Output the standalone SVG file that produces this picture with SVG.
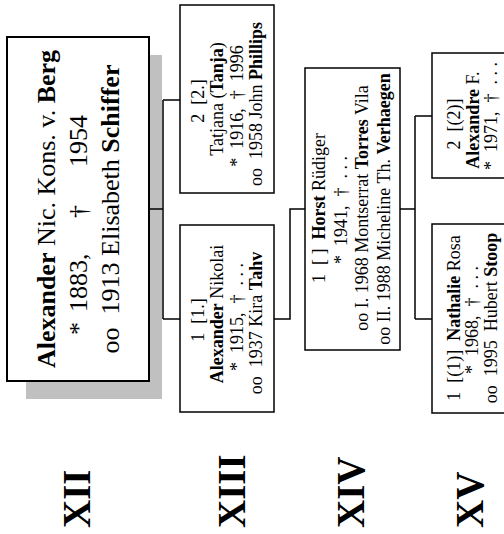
<svg xmlns="http://www.w3.org/2000/svg" width="504" height="534" viewBox="0 0 504 534">
<style>
.box{fill:#fff;stroke:#000;stroke-width:1.5}
.main{fill:#fff;stroke:#000;stroke-width:2}
.conn{fill:none;stroke:#000;stroke-width:1.5}
text{font-family:"Liberation Serif","Times New Roman",serif;fill:#000;white-space:pre}
.t{font-size:18px;text-anchor:middle}
.m{font-size:26px}
.b{font-weight:bold}
.rn{font-size:39px;font-weight:bold}
</style>
<rect x="26" y="55" width="136" height="344" fill="#c0c0c0"/>
<g id="connectors">
<path class="conn" d="M149,209 H163 M163,100 V319 M163,100 H180 M163,319 H180"/>
<path class="conn" d="M274,319 H290 V209 H305"/>
<path class="conn" d="M400,209 H415 M415,116 V319 M415,116 H432 M415,319 H432"/>
</g>
<g id="n_berg">
<rect class="main" x="7" y="37" width="142" height="344"/>
<g transform="rotate(-90)">
<text class="m" x="-209" y="55" text-anchor="middle"><tspan class="b">Alexander</tspan> Nic. Kons. v. <tspan class="b">Berg</tspan></text>
<text class="m" x="-335" y="87">*</text>
<text class="m" x="-312" y="87">1883,</text>
<text class="m" x="-218" y="87">†</text>
<text class="m" x="-115" y="87" text-anchor="end">1954</text>
<text class="m" x="-209" y="119" text-anchor="middle">oo  1913 Elisabeth <tspan class="b">Schiffer</tspan></text>
</g>
</g>
<g id="n_tatjana">
<rect class="box" x="180" y="5" width="94" height="188"/>
<g transform="rotate(-90)">
<text class="t" x="-101" y="204">2  [2.]</text>
<text class="t" x="-99" y="223">Tatjana (<tspan class="b">Tanja</tspan>)</text>
<text class="t" x="-106" y="243">*  1916,  †  1996</text>
<text class="t" x="-104" y="262">oo  1958 John <tspan class="b">Phillips</tspan></text>
</g>
</g>
<g id="n_alexander">
<rect class="box" x="180" y="225" width="94" height="187"/>
<g transform="rotate(-90)">
<text class="t" x="-320" y="204">1  [1.]</text>
<text class="t" x="-314" y="223"><tspan class="b">Alexander</tspan> Nikolai</text>
<text class="t" x="-317" y="243">*  1915,  †  . . .</text>
<text class="t" x="-323" y="262">oo  1937 Kira <tspan class="b">Tahv</tspan></text>
</g>
</g>
<g id="n_horst">
<rect class="box" x="305" y="68" width="95" height="282"/>
<g transform="rotate(-90)">
<text class="t" x="-208" y="325">1  [ ]  <tspan class="b">Horst</tspan> Rüdiger</text>
<text class="t" x="-210" y="347">*  1941,  †  . . .</text>
<text class="t" x="-208" y="368">oo I. 1968 Montserrat <tspan class="b">Torres</tspan> Vila</text>
<text class="t" x="-209" y="390">oo II. 1988 Micheline Th. <tspan class="b">Verhaegen</tspan></text>
</g>
</g>
<g id="n_alexandre">
<rect class="box" x="432" y="53" width="80" height="125"/>
<g transform="rotate(-90)">
<text class="t" x="-124" y="460">2  [(2)]</text>
<text class="t" x="-120" y="479"><tspan class="b">Alexandre</tspan> F.</text>
<text class="t" x="-116" y="497">*  1971,  †  . . .</text>
</g>
</g>
<g id="n_nathalie">
<rect class="box" x="432" y="224" width="80" height="189"/>
<g transform="rotate(-90)">
<text class="t" x="-318" y="460">1  [(1)]  <tspan class="b">Nathalie</tspan> Rosa</text>
<text class="t" x="-320" y="478">*  1968,  †  . . .</text>
<text class="t" x="-318" y="497">oo  1995  Hubert <tspan class="b">Stoop</tspan></text>
</g>
</g>
<g id="levels" transform="rotate(-90)">
<text class="rn" x="-528" y="90">XII</text>
<text class="rn" x="-528" y="245">XIII</text>
<text class="rn" x="-528" y="364">XIV</text>
<text class="rn" x="-528" y="483">XV</text>
</g>
</svg>
